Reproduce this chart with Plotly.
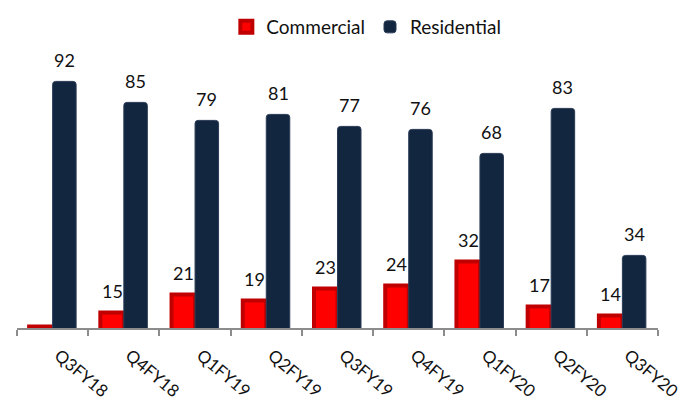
import plotly.graph_objects as go

quarters = ["Q3FY18", "Q4FY18", "Q1FY19", "Q2FY19", "Q3FY19", "Q4FY19", "Q1FY20", "Q2FY20", "Q3FY20"]
commercial = [10.3, 15, 21, 19, 23, 24, 32, 17, 14]
commercial_labels = ["", "15", "21", "19", "23", "24", "32", "17", "14"]
residential = [92, 85, 79, 81, 77, 76, 68, 83, 34]
residential_labels = [str(v) for v in residential]

FONT = "Lato, 'Open Sans', sans-serif"
RED = "#FF0000"
RED_DARK = "#C00000"
NAVY = "#13263F"

fig = go.Figure()
fig.add_trace(go.Bar(
    name="Commercial", x=quarters, y=commercial,
    marker=dict(color=RED, line=dict(color=RED_DARK, width=4)),
))
fig.add_trace(go.Bar(
    name="Residential", x=quarters, y=residential,
    marker=dict(color=NAVY, cornerradius=3, line=dict(color="#2A3B55", width=1)),
))

half_bar = 11.75
for q, v, t in zip(quarters, commercial, commercial_labels):
    if t:
        fig.add_annotation(x=q, y=v, text=t, showarrow=False, xshift=-half_bar,
                           yshift=21, yanchor="middle",
                           font=dict(family=FONT, size=18, color="#111111"))
for q, v, t in zip(quarters, residential, residential_labels):
    fig.add_annotation(x=q, y=v, text=t, showarrow=False, xshift=half_bar,
                       yshift=21, yanchor="middle",
                       font=dict(family=FONT, size=18, color="#111111"))

# the page body adds an 8px offset, so the figure is 8px smaller and margins shifted
fig.update_layout(
    width=687, height=397,
    margin=dict(l=9, r=37, t=44, b=77, autoexpand=False),
    paper_bgcolor="white", plot_bgcolor="white",
    barmode="group", bargap=0.34, bargroupgap=0,
    font=dict(family=FONT, size=18, color="#111111"),
    showlegend=True,
    legend=dict(orientation="h", x=0.545, xanchor="center", yref="container", y=1,
                yanchor="top", font=dict(family=FONT, size=19), itemwidth=30,
                traceorder="normal"),
    xaxis=dict(
        showline=True, linecolor="#8C8C8C", linewidth=2,
        ticks="outside", tickson="boundaries", ticklen=6, tickcolor="#8C8C8C", tickwidth=2,
        tickangle=40, ticklabelstandoff=9, ticklabelshift=6, automargin=False,
        tickfont=dict(family=FONT, size=17, color="#111111"),
        showgrid=False, zeroline=False,
    ),
    yaxis=dict(range=[9.8, 101.8], visible=False, showgrid=False, zeroline=False,
               automargin=False),
)

fig.write_html("out.html")
